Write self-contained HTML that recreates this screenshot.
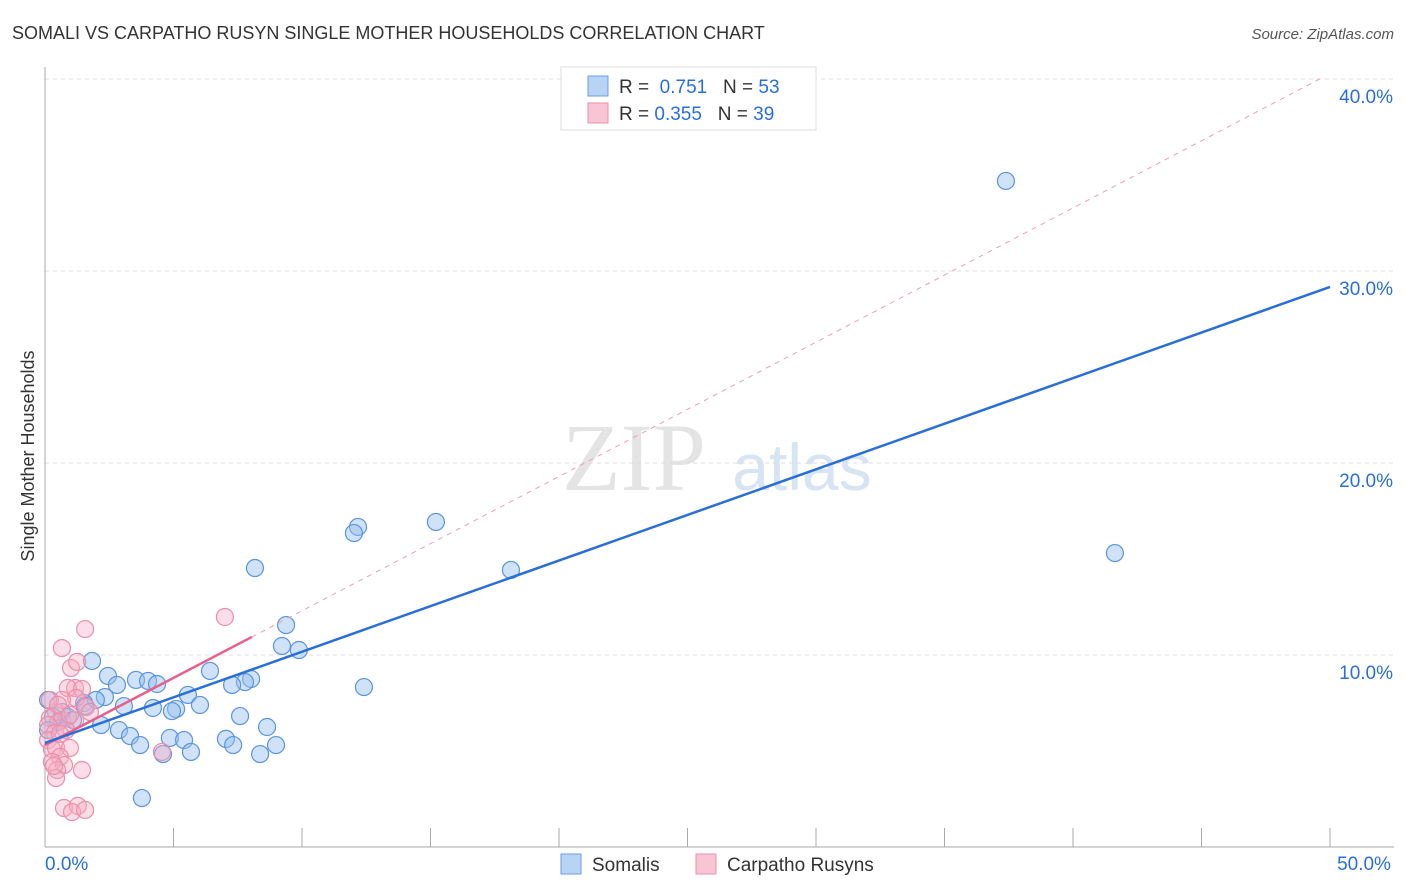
<!DOCTYPE html>
<html><head><meta charset="utf-8"><style>
body{margin:0;background:#fff;font-family:"Liberation Sans",sans-serif}
svg{display:block}
</style></head><body>
<svg id="c" width="1406" height="892" xmlns="http://www.w3.org/2000/svg">
<text x="12" y="39" font-size="18" fill="#333">SOMALI VS CARPATHO RUSYN SINGLE MOTHER HOUSEHOLDS CORRELATION CHART</text>
<text x="1394" y="39" font-size="15" fill="#555" text-anchor="end" font-style="italic">Source: ZipAtlas.com</text>
<text x="634" y="490" font-size="96" fill="#e4e4e4" font-family="Liberation Serif,serif" text-anchor="middle">ZIP</text>
<text x="802" y="490" font-size="66" fill="#d6e4f4" text-anchor="middle">atlas</text>
<g id="grid"></g><g id="marks"></g>
<text transform="translate(34,456) rotate(-90)" font-size="18" fill="#333" text-anchor="middle">Single Mother Households</text>
<g>
<rect x="561" y="67" width="255" height="63" fill="#fff" stroke="#ddd"/>
<rect x="588" y="76" width="20" height="20" fill="#b8d3f4" stroke="#6a9ee0"/>
<rect x="588" y="103" width="20" height="20" fill="#f9c5d4" stroke="#ea8fab"/>
<text x="619" y="93" font-size="19" fill="#333">R = <tspan fill="#2a6ed8">&#160;0.751</tspan>&#160;&#160;&#160;N = <tspan fill="#2a6ed8">53</tspan></text>
<text x="619" y="120" font-size="19" fill="#333">R = <tspan fill="#2a6ed8">0.355</tspan>&#160;&#160;&#160;N = <tspan fill="#2a6ed8">39</tspan></text>
</g>
<g>
<rect x="561" y="854" width="20" height="20" fill="#b8d3f4" stroke="#6a9ee0"/>
<text x="592" y="871" font-size="19" fill="#333">Somalis</text>
<rect x="696" y="854" width="20" height="20" fill="#f9c5d4" stroke="#ea8fab"/>
<text x="727" y="871" font-size="19" fill="#333">Carpatho Rusyns</text>
</g>
</svg>
<script>
const yTicks=[10,20,30,40];
const yTickLabels=["10.0%","20.0%","30.0%","40.0%"];
const xTickLabels=["0.0%","50.0%"];
const somaliX=[37.39,41.63,15.21,12.18,12.02,18.13,8.17,9.38,9.22,9.88,1.83,6.42,2.45,3.54,4.01,4.36,8.02,7.78,7.28,12.41,2.80,5.56,2.33,1.98,0.12,1.52,3.07,4.20,6.03,5.10,4.94,7.59,0.66,0.89,0.31,1.09,2.18,2.88,3.31,4.86,5.41,7.04,3.70,7.32,8.99,8.64,5.68,4.59,8.37,3.77,1.56,0.51,0.12];
const somaliY=[34.69,15.31,16.93,16.67,16.35,14.43,14.53,11.56,10.47,10.26,9.69,9.17,8.91,8.70,8.65,8.49,8.75,8.59,8.44,8.33,8.44,7.92,7.81,7.66,7.66,7.50,7.34,7.24,7.40,7.19,7.08,6.82,7.03,6.77,6.77,6.61,6.35,6.09,5.78,5.68,5.57,5.63,5.31,5.31,5.31,6.25,4.95,4.84,4.84,2.55,7.34,6.51,6.09];
const rusynX=[7.00,1.56,0.66,1.01,1.25,1.17,0.89,1.44,1.21,1.60,0.43,0.19,0.66,0.12,1.17,0.39,0.12,0.27,0.43,0.97,0.58,0.27,0.74,0.47,1.44,0.43,0.74,1.28,1.05,1.56,4.55,0.66,1.75,0.19,0.51,0.82,0.35,0.58,0.97];
const rusynY=[11.98,11.35,10.36,9.32,9.64,8.28,8.28,8.23,7.76,7.29,7.03,6.72,6.61,6.35,6.61,5.94,5.57,5.10,5.16,5.16,4.69,4.43,4.27,4.01,4.01,3.59,2.03,2.14,1.82,1.93,4.95,7.66,7.03,7.66,7.40,6.09,4.22,5.89,6.88];
const somaliTrend=[5.42,29.17];
const rusynTrend=[5.31,10.94,8.05];
const NS="http://www.w3.org/2000/svg";
const X=v=>45+v*25.7, Y=v=>847-v*19.2;
function mk(t,a,p){const e=document.createElementNS(NS,t);for(const k in a)e.setAttribute(k,a[k]);(p||document.getElementById('marks')).appendChild(e);return e;}
const g=document.getElementById('grid');
yTicks.forEach((t,i)=>{
 const l=mk('line',{x1:45,x2:1394,y1:Y(t),y2:Y(t),stroke:'#ddd','stroke-dasharray':'4,4'},g);
 
 
 const tx=mk('text',{x:1393,y:Y(t)+24,'font-size':19,fill:'#2a6ed8','text-anchor':'end'},g);
 tx.textContent=yTickLabels[i];
 
 
});
const ax=mk('line',{x1:45,x2:45,y1:67,y2:847,stroke:'#aaa'},g);


const bx=mk('line',{x1:45,x2:1394,y1:847,y2:847,stroke:'#aaa'},g);


for(let i=0;i<=10;i++){
 const t=mk('line',{x1:X(i*5),x2:X(i*5),y1:828,y2:847,stroke:'#aaa'},g);
 
 
}
[[0,'start',45],[50,'middle',1364]].forEach((d,i)=>{
 const tx=mk('text',{x:d[2],y:870,'font-size':19,fill:'#2a6ed8','text-anchor':d[1]},g);
 tx.textContent=xTickLabels[i];
 
 
});
somaliX.forEach((x,i)=>{
 const c=mk('circle',{cx:X(x),cy:Y(somaliY[i]),r:8.5,fill:'rgba(150,190,238,0.45)',stroke:'#5a94dc','stroke-width':1.2});
 
 
});
rusynX.forEach((x,i)=>{
 const c=mk('circle',{cx:X(x),cy:Y(rusynY[i]),r:8.5,fill:'rgba(246,172,196,0.4)',stroke:'#ea8fab','stroke-width':1.2});
 
 
});
const slope=(rusynTrend[1]-rusynTrend[0])/rusynTrend[2];
const xe=(40-rusynTrend[0])/slope;
const d=mk('line',{x1:X(rusynTrend[2]),y1:Y(rusynTrend[1]),x2:X(xe),y2:Y(40),stroke:'#eaa0b8','stroke-dasharray':'5,5','stroke-width':1});


const r=mk('line',{x1:X(0),y1:Y(rusynTrend[0]),x2:X(rusynTrend[2]),y2:Y(rusynTrend[1]),stroke:'#e8608a','stroke-width':2.5});


const s=mk('line',{x1:X(0),y1:Y(somaliTrend[0]),x2:X(50),y2:Y(somaliTrend[1]),stroke:'#2a6ed8','stroke-width':2.5});


</script>
</body></html>
